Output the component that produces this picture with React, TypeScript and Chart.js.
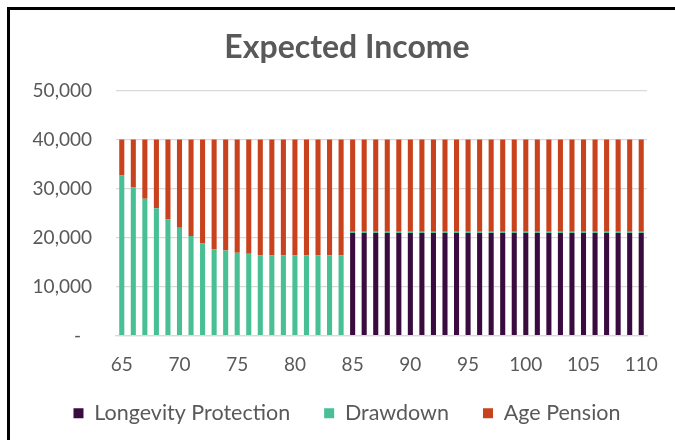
import React, { useEffect, useRef } from 'react';
import { Chart, registerables } from 'chart.js';

Chart.register(...registerables);

const chartTitle = 'Expected Income';

const ages = [
  '65', '66', '67', '68', '69', '70', '71', '72', '73', '74',
  '75', '76', '77', '78', '79', '80', '81', '82', '83', '84',
  '85', '86', '87', '88', '89', '90', '91', '92', '93', '94',
  '95', '96', '97', '98', '99', '100', '101', '102', '103', '104',
  '105', '106', '107', '108', '109', '110',
];

const longevityProtection = [
  0, 0, 0, 0, 0, 0, 0, 0, 0, 0,
  0, 0, 0, 0, 0, 0, 0, 0, 0, 0,
  20950, 20950, 20950, 20950, 20950, 20950, 20950, 20950, 20950, 20950,
  20950, 20950, 20950, 20950, 20950, 20950, 20950, 20950, 20950, 20950,
  20950, 20950, 20950, 20950, 20950, 20950,
];

const drawdown = [
  32650, 30200, 27900, 26000, 23700, 22000, 20300, 18800, 17550, 17350,
  16900, 16700, 16400, 16400, 16400, 16400, 16400, 16400, 16400, 16400,
  250, 250, 250, 250, 250, 250, 250, 250, 250, 250,
  250, 250, 250, 250, 250, 250, 250, 250, 250, 250,
  250, 250, 250, 250, 250, 250,
];

const agePension = [
  7350, 9800, 12100, 14000, 16300, 18000, 19700, 21200, 22450, 22650,
  23100, 23300, 23600, 23600, 23600, 23600, 23600, 23600, 23600, 23600,
  18800, 18800, 18800, 18800, 18800, 18800, 18800, 18800, 18800, 18800,
  18800, 18800, 18800, 18800, 18800, 18800, 18800, 18800, 18800, 18800,
  18800, 18800, 18800, 18800, 18800, 18800,
];

const yTickValues = [0, 10000, 20000, 30000, 40000, 50000];

const FONT = 'Lato';
const TEXT = '#595959';
const GRID = '#D9D9D9';
const LEGEND_SHIFT = 26;

const legendShift = {
  id: 'legendShift',
  afterLayout(chart: any) {
    const lg = chart.legend;
    if (lg) {
      lg.top -= LEGEND_SHIFT;
      lg.bottom -= LEGEND_SHIFT;
    }
  },
};

export default function App() {
  const ref = useRef<HTMLCanvasElement>(null);

  useEffect(() => {
    const canvas = ref.current;
    if (!canvas) return;
    const chart = new Chart(canvas, {
      type: 'bar',
      data: {
        labels: ages,
        datasets: [
          { label: 'Longevity Protection', data: longevityProtection, backgroundColor: '#3A0B3E', borderWidth: 0 },
          { label: 'Drawdown', data: drawdown, backgroundColor: '#48BF94', borderWidth: 0 },
          { label: 'Age Pension', data: agePension, backgroundColor: '#C8431D', borderWidth: 0 },
        ],
      },
      plugins: [legendShift],
      options: {
        responsive: false,
        maintainAspectRatio: false,
        animation: false,
        devicePixelRatio: 1,
        datasets: { bar: { categoryPercentage: 1, barPercentage: 0.44 } },
        layout: { padding: { left: 0, right: 0, top: 0, bottom: 6 } },
        plugins: {
          title: {
            display: true,
            text: chartTitle,
            color: TEXT,
            font: { family: FONT, size: 32, weight: 'bold' },
            padding: { top: 18, bottom: 24 },
          },
          legend: {
            position: 'bottom',
            labels: {
              boxWidth: 10,
              boxHeight: 10,
              padding: 34,
              color: TEXT,
              font: { family: FONT, size: 21.5 },
            },
          },
          tooltip: { enabled: false },
        },
        scales: {
          x: {
            stacked: true,
            grid: { display: false, drawTicks: false },
            border: { display: true, color: GRID, width: 1.3 },
            ticks: {
              autoSkip: false,
              maxRotation: 0,
              minRotation: 0,
              padding: 18,
              color: TEXT,
              font: { family: FONT, size: 19 },
              callback: (_v: any, i: number) => (Number(ages[i]) % 5 === 0 ? ages[i] : ''),
            },
          },
          y: {
            stacked: true,
            min: 0,
            max: 50000,
            afterBuildTicks: (s: any) => {
              s.ticks = yTickValues.map((v) => ({ value: v }));
            },
            afterFit: (s: any) => {
              s.width = 106;
            },
            grid: { color: GRID, lineWidth: 1.3, drawTicks: false },
            border: { display: false },
            ticks: {
              padding: 24,
              color: TEXT,
              font: { family: FONT, size: 19 },
              callback: (v: any) => (Number(v) === 0 ? '-\u2007' : Number(v).toLocaleString('en-US')),
            },
          },
          rightSpace: {
            type: 'linear',
            position: 'right',
            display: true,
            grid: { display: false, drawTicks: false },
            border: { display: false },
            ticks: { display: false },
            afterFit: (s: any) => {
              s.width = 37;
            },
          },
        },
      },
    });
    return () => chart.destroy();
  }, []);

  return (
    <div style={{ position: 'fixed', left: 0, top: 0, width: 675, height: 440, overflow: 'hidden', background: '#fff' }}>
      <div style={{ position: 'absolute', left: 7, top: 7, width: 720, height: 480, borderTop: '3px solid #000', borderLeft: '3px solid #000' }} />
      <canvas ref={ref} width={674} height={456} style={{ position: 'absolute', left: 10, top: 10, width: 674, height: 456 }} />
    </div>
  );
}
